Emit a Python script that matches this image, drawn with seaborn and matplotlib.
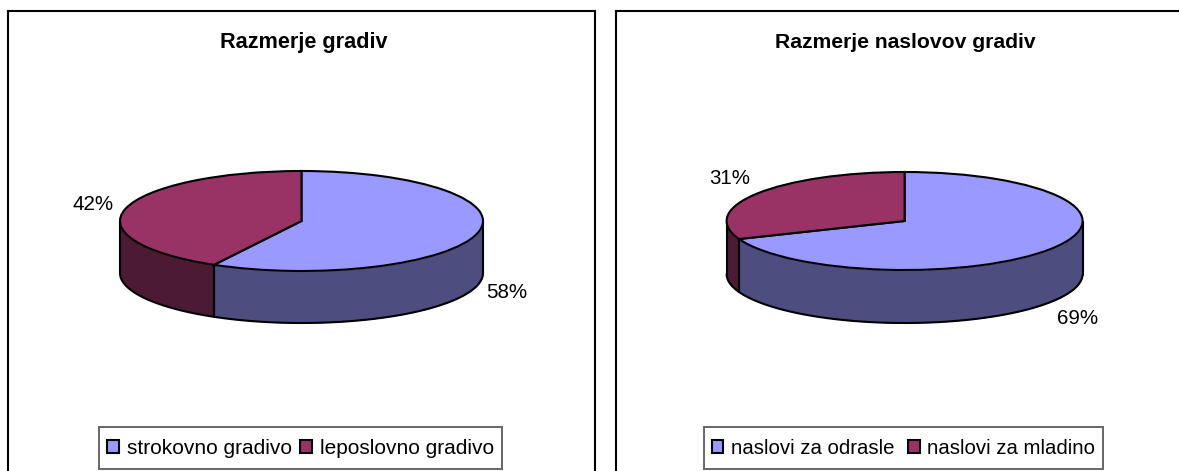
import numpy as np
import seaborn as sns
import matplotlib
matplotlib.use("Agg")
import matplotlib.pyplot as plt
from matplotlib.patches import Patch, Rectangle

W, H = 1179, 471

titles = ["Razmerje gradiv", "Razmerje naslovov gradiv"]
left_labels = ["strokovno gradivo", "leposlovno gradivo"]
right_labels = ["naslovi za odrasle", "naslovi za mladino"]
left_values = [58, 42]
right_values = [69, 31]

top_colors = ["#9999FF", "#993366"]
side_colors = ["#4D4D80", "#4D1A33"]

sns.set_theme(style="white", rc={"font.family": ["Liberation Sans", "DejaVu Sans"]})
plt.rcParams["font.family"] = ["Liberation Sans", "DejaVu Sans"]

PX = 72 / 100  # points per pixel at dpi 100
LW = 1.5
fig = plt.figure(figsize=(W / 100, H / 100), dpi=100, facecolor="white")


def panel(frame, cx, cy, a, b, depth, values, labels, title, title_x, title_px,
          label_xy, legend_box, legend_x, legend_px, col_gap):
    x0, x1, y0, y1 = frame
    ax = fig.add_axes([x0 / W, 1 - y1 / H, (x1 - x0) / W, (y1 - y0) / H])
    ax.pie(values, colors=top_colors, startangle=90, counterclock=False, radius=1,
           wedgeprops=dict(edgecolor="black", linewidth=LW, zorder=5))
    ax.set_aspect("auto")
    # axis units: one a horizontally, one b vertically; pie centre sits at 0, 0
    ax.set_xlim((x0 - cx) / a, (x1 - cx) / a)
    ax.set_ylim((cy - y1) / b, (cy - y0) / b)
    ax.set_frame_on(True)
    for s in ax.spines.values():
        s.set_visible(True)
        s.set_color("black")
        s.set_linewidth(LW)
    d = depth / b

    # side wall: slices run clockwise from the top, only the front half is visible
    edges = 90 - 3.6 * np.cumsum([0] + list(values))
    for i in range(len(values)):
        t = np.radians(np.linspace(edges[i], edges[i + 1], 200))
        t = t[np.sin(t) <= 0]
        xs, ys = np.cos(t), np.sin(t)
        ax.fill_between(xs, ys - d, ys, color=side_colors[i], linewidth=0, zorder=1)
        ax.plot(xs, ys - d, color="black", lw=LW, zorder=2)
        ax.plot([xs[0], xs[0]], [ys[0], ys[0] - d], color="black", lw=LW, zorder=2)
        ax.plot([xs[-1], xs[-1]], [ys[-1], ys[-1] - d], color="black", lw=LW, zorder=2)

    def fx(px): return px / W
    def fy(py): return 1 - py / H
    fig.text(fx(title_x), fy(42.5), title, ha="center", va="center",
             fontsize=title_px * PX, fontweight="bold", color="black")
    for v, (lx, ly) in zip(values, label_xy):
        fig.text(fx(lx), fy(ly), f"{v}%", ha="center", va="center",
                 fontsize=20.5 * PX, color="black")

    lx0, lx1, ly0, ly1 = legend_box
    fig.add_artist(Rectangle((lx0 / W, 1 - ly1 / H), (lx1 - lx0) / W, (ly1 - ly0) / H,
                             transform=fig.transFigure, facecolor="white",
                             edgecolor="#666666", linewidth=1.4))
    handles = [Patch(facecolor=c, edgecolor="black", linewidth=LW) for c in top_colors]
    fig.legend(handles, labels, ncol=2, loc="center",
               bbox_to_anchor=(legend_x / W, 1 - (ly0 + ly1) / 2 / H),
               fontsize=legend_px * PX, frameon=False, labelcolor="black",
               handlelength=0.58, handleheight=0.58, handletextpad=0.36,
               columnspacing=col_gap, borderpad=0.55, borderaxespad=0, labelspacing=0)
    return ax


panel((8, 595, 11, 490), 301.5, 221, 181.5, 50, 52, left_values, left_labels, titles[0], 304, 21.6,
      [(507, 293), (93, 205)], (99, 502, 427, 469), 300.5, 20.9, 0.42)
panel((616, 1210, 11, 490), 904.6, 221, 178, 49, 53, right_values, right_labels, titles[1], 905, 21.2,
      [(1078, 319), (730, 178)], (704, 1103, 427, 469), 903.5, 20.4, 0.68)

fig.savefig("out.png", dpi=100)
